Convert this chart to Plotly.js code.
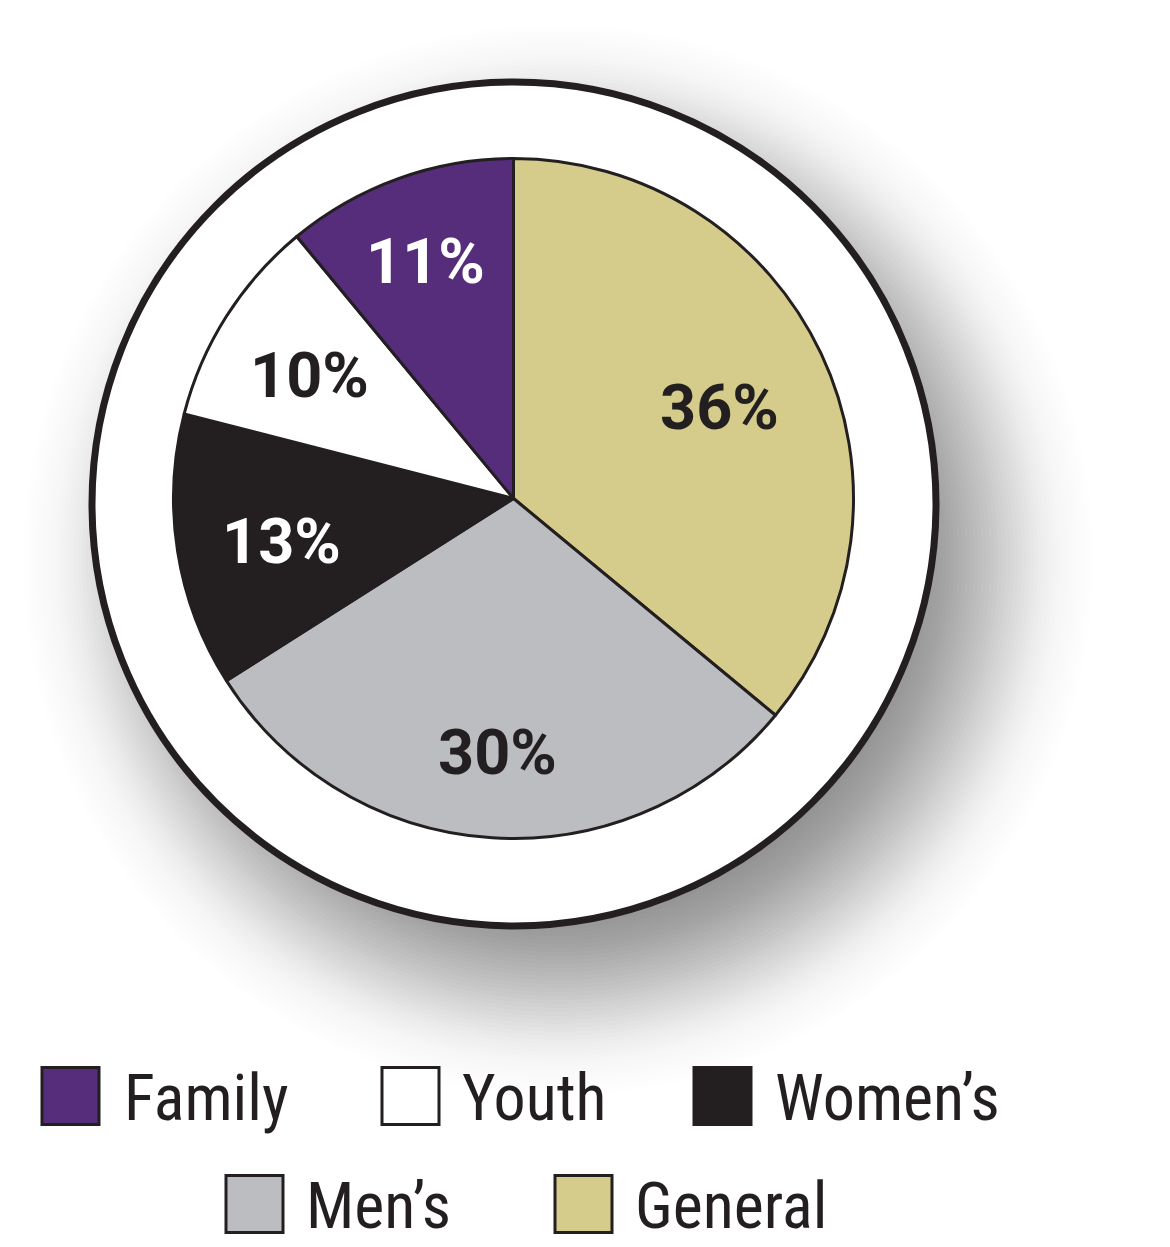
<!DOCTYPE html>
<html>
<head>
<meta charset="utf-8">
<script src="https://cdn.plot.ly/plotly-3.0.1.min.js"></script>
<style>html,body{margin:0;padding:0;background:#fff;}#chart{width:1170px;height:1247px;}</style>
</head>
<body>
<div id="chart"></div>
<script>
// Data (clockwise from 12 o'clock)
const categories = ["General", "Men\u2019s", "Women\u2019s", "Youth", "Family"];
const values = [36, 30, 13, 10, 11];
const sliceColors = ["#D5CC8C", "#BCBDC0", "#231F20", "#FFFFFF", "#552D7A"];
const labelColors = ["#231F20", "#231F20", "#FFFFFF", "#231F20", "#FFFFFF"];
// Legend order
const legendOrder = ["Family", "Youth", "Women\u2019s", "Men\u2019s", "General"];

// styling: radial position of each percentage label (fraction of pie radius)
const labelRadius = [0.67, 0.73, 0.69, 0.71, 0.76];

const W = 1170, H = 1247;
const px = v => v / W;
const py = v => 1 - v / H;

// pie geometry
const pcx = 513.5, pcy = 498.5, pr = 340;
// outer circle
const ocx = 514, ocy = 504, orad = 422;

const shapes = [];
// soft drop shadow: gaussian-blurred disk approximated by layered translucent circles
(function () {
  const sdx = 44, sdy = 56, R = 430, s = 54, M = 0.5;
  const erf = x => { // Abramowitz-Stegun
    const t = 1 / (1 + 0.3275911 * Math.abs(x));
    const y = 1 - (((((1.061405429 * t - 1.453152027) * t) + 1.421413741) * t - 0.284496736) * t + 0.254829592) * t * Math.exp(-x * x);
    return x >= 0 ? y : -y;
  };
  const Phi = z => 0.5 * (1 + erf(z / Math.SQRT2));
  let prev = 0;
  for (let r = R + 3 * s; r >= R - 2.5 * s; r -= 4) {
    const D = M * Phi((R - r) / s);
    const a = 1 - (1 - D) / (1 - prev);
    prev = D;
    shapes.push({
      type: "circle", xref: "paper", yref: "paper", layer: "below",
      x0: px(ocx + sdx - r), x1: px(ocx + sdx + r),
      y0: py(ocy + sdy + r), y1: py(ocy + sdy - r),
      fillcolor: "rgba(40,35,40," + a.toFixed(5) + ")", line: {width: 0}
    });
  }
})();
// white ring circle
shapes.push({
  type: "circle", xref: "paper", yref: "paper", layer: "below",
  x0: px(ocx - orad), x1: px(ocx + orad),
  y0: py(ocy + orad), y1: py(ocy - orad),
  fillcolor: "#FFFFFF", line: {color: "#231F20", width: 7}
});

const annotations = [];

// percentage labels placed at each slice's mid angle (computed from the values)
const total = values.reduce((a, b) => a + b, 0);
let cum = 0;
values.forEach((v, i) => {
  const mid = (cum + v / 2) / total * 2 * Math.PI;
  cum += v;
  const rr = labelRadius[i] * pr;
  annotations.push({
    xref: "paper", yref: "paper",
    x: px(pcx + rr * Math.sin(mid)), y: py(pcy - rr * Math.cos(mid) + 6),
    xanchor: "center", yanchor: "middle", showarrow: false,
    text: v + "%",
    font: {family: "Roboto, sans-serif", size: 63, color: labelColors[i], weight: 700}
  });
});

// custom legend (two centered rows)
const legendPos = {
  "Family": {sx: 42, tx: 122, cy: 1096},
  "Youth": {sx: 382, tx: 460, cy: 1096},
  "Women\u2019s": {sx: 694, tx: 773, cy: 1096},
  "Men\u2019s": {sx: 226, tx: 304, cy: 1204},
  "General": {sx: 555, tx: 633, cy: 1204}
};
legendOrder.forEach(name => {
  const idx = categories.indexOf(name);
  const p = legendPos[name];
  const s = 57;
  shapes.push({
    type: "rect", xref: "paper", yref: "paper", layer: "above",
    x0: px(p.sx), x1: px(p.sx + s), y0: py(p.cy + s / 2), y1: py(p.cy - s / 2),
    fillcolor: sliceColors[idx], line: {color: "#231F20", width: 3}
  });
  annotations.push({
    xref: "paper", yref: "paper", x: px(p.tx), y: py(p.cy + 2),
    xanchor: "left", yanchor: "middle", showarrow: false,
    text: name,
    font: {family: "Liberation Sans Narrow, Roboto Condensed, DejaVu Sans Condensed, Roboto, sans-serif", size: 64, color: "#231F20"}
  });
});

const trace = {
  type: "pie",
  labels: categories,
  values: values,
  sort: false,
  direction: "clockwise",
  rotation: 0,
  marker: {colors: sliceColors, line: {color: "#231F20", width: 3}},
  textinfo: "none",
  hoverinfo: "label+percent",
  showlegend: false,
  domain: {
    x: [px(pcx - pr), px(pcx + pr)],
    y: [py(pcy + pr), py(pcy - pr)]
  }
};

const layout = {
  width: W, height: H,
  margin: {l: 0, r: 0, t: 0, b: 0},
  paper_bgcolor: "#FFFFFF",
  showlegend: false,
  shapes: shapes,
  annotations: annotations
};

Plotly.newPlot("chart", [trace], layout, {displayModeBar: false, staticPlot: true});
</script>
</body>
</html>
